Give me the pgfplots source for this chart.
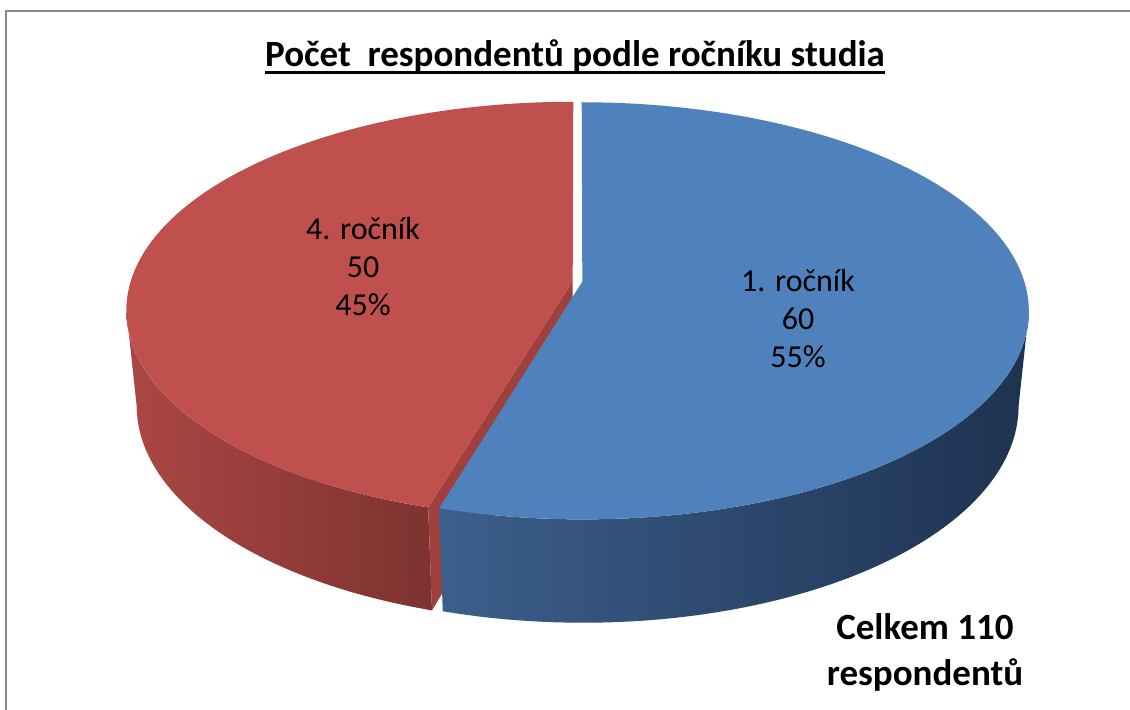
\documentclass[border=0pt]{standalone}
\usepackage{pgfplots}
\pgfplotsset{compat=1.18}
\usepackage{fontspec}
\setmainfont{Carlito}

% data
\def\valA{60}% 1. rocnik
\def\valB{50}% 4. rocnik

% geometry (pixel units, y downwards)
\def\pieCX{577.5}
\def\pieCY{281.3}
\def\pieA{442}
\def\pieB{204.4}
\def\pieP{0.14}
\def\pieQ{0.023}
\def\pieD{96.7}
\def\pieE{0.011}

\pgfmathsetmacro\tot{\valA+\valB}
\pgfmathsetmacro\aB{90-360/\tot*\valA}
\pgfmathsetmacro\aR{90+360/\tot*\valB}
\pgfmathsetmacro\sil{asin(\pieP)}
\pgfmathsetmacro\mB{90-180/\tot*\valA}
\pgfmathsetmacro\mR{90+180/\tot*\valB}
\pgfmathsetmacro\oxB{\pieE*cos(\mB)}
\pgfmathsetmacro\ozB{\pieE*sin(\mB)}
\pgfmathsetmacro\oxR{\pieE*cos(\mR)}
\pgfmathsetmacro\ozR{\pieE*sin(\mR)}
\pgfmathsetmacro\rWs{180+\sil}
\pgfmathsetmacro\bWe{0-\sil}

\definecolor{bluetop}{HTML}{4F81BD}
\definecolor{redtop}{HTML}{C0504D}
\definecolor{blueL}{HTML}{3C5F8C}
\definecolor{blueR}{HTML}{1E3250}
\definecolor{redL}{HTML}{AB4744}
\definecolor{redR}{HTML}{7D3330}
\definecolor{redface}{HTML}{A0403D}
\definecolor{frame}{HTML}{898989}

\newcommand\thickul[1]{\sbox0{#1}\usebox0\llap{\rule[-3.4pt]{\wd0}{1.5pt}}}

\begin{document}
\begin{tikzpicture}
\begin{axis}[
  width=565pt, height=355pt, scale only axis,
  xmin=0, xmax=1130, ymin=0, ymax=710, y dir=reverse,
  hide axis, clip=true,
  declare function={
    PW(\ang,\rr,\oz,\hh)=1+\pieP*(\oz+\rr*sin(\ang))+\hh*\pieQ;
    PX(\ang,\rr,\ox,\oz,\hh)=\pieCX+\pieA*(\ox+\rr*cos(\ang))/PW(\ang,\rr,\oz,\hh);
    PY(\ang,\rr,\oz,\hh)=\pieCY+(\hh*\pieD-\pieB*(\oz+\rr*sin(\ang)))/PW(\ang,\rr,\oz,\hh);
  },
]
% ---- red slice (4. rocnik) ----
% outer wall
\addplot[draw=none, left color=redL, right color=redR, variable=\i, domain=0:201, samples=202]
 ({PX(\rWs+(\aR-\rWs)*min(\i,201-\i)/100,1,\oxR,\ozR,(\i>100.5))},
  {PY(\rWs+(\aR-\rWs)*min(\i,201-\i)/100,1,\ozR,(\i>100.5))});
% radial face
\addplot[draw=none, fill=redface, variable=\i, domain=0:3, samples=4]
 ({PX(\aR,(\i>0.5)*(\i<2.5),\oxR,\ozR,(\i>1.5))},
  {PY(\aR,(\i>0.5)*(\i<2.5),\ozR,(\i>1.5))});
% top
\addplot[draw=none, fill=redtop, variable=\i, domain=0:102, samples=103]
 ({PX(90+(\aR-90)*max(0,min(1,(\i-1)/100)),(\i>0.5)*(\i<101.5),\oxR,\ozR,0)},
  {PY(90+(\aR-90)*max(0,min(1,(\i-1)/100)),(\i>0.5)*(\i<101.5),\ozR,0)});
% ---- blue slice (1. rocnik) ----
\addplot[draw=none, left color=blueL, right color=blueR, variable=\i, domain=0:201, samples=202]
 ({PX(\aB+(\bWe-\aB)*min(\i,201-\i)/100,1,\oxB,\ozB,(\i>100.5))},
  {PY(\aB+(\bWe-\aB)*min(\i,201-\i)/100,1,\ozB,(\i>100.5))});
\addplot[draw=none, fill=bluetop, variable=\i, domain=0:102, samples=103]
 ({PX(\aB+(90-\aB)*max(0,min(1,(\i-1)/100)),(\i>0.5)*(\i<101.5),\oxB,\ozB,0)},
  {PY(\aB+(90-\aB)*max(0,min(1,(\i-1)/100)),(\i>0.5)*(\i<101.5),\ozB,0)});

% frame
\draw[frame, line width=1pt] (axis cs:1300,11.5) -- (axis cs:6.5,11.5) -- (axis cs:6.5,900);

% labels
\node[align=center, font=\fontsize{16}{19}\selectfont] at (axis cs:363,267) {4. ročník\\\valB\\45\%};
\node[align=center, font=\fontsize{16}{19}\selectfont] at (axis cs:798,319) {1. ročník\\\valA\\55\%};
\node[font=\fontsize{18.5}{22}\selectfont\bfseries] at (axis cs:575,57) {\thickul{Počet~~respondentů podle ročníku studia}};
\node[align=center, font=\fontsize{18.5}{23}\selectfont\bfseries] at (axis cs:925,652) {Celkem 110\\respondentů};
\end{axis}
\pgfresetboundingbox
\useasboundingbox (current axis.south west) rectangle (current axis.north east);
\end{tikzpicture}
\end{document}
